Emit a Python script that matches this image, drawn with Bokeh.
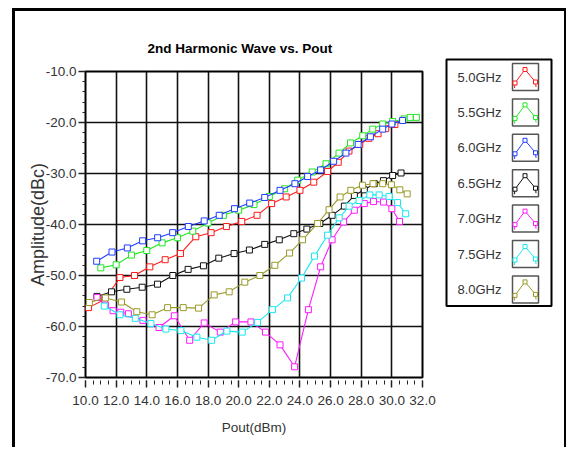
from bokeh.plotting import figure
from bokeh.layouts import row
from bokeh.models import Range1d, FixedTicker, PrintfTickFormatter
from bokeh.embed import file_html
from bokeh.resources import INLINE
from bokeh.core.properties import value
import numpy as np

FONT = "Liberation Sans"

# ---------------- data ----------------
x_ticks = [10, 12, 14, 16, 18, 20, 22, 24, 26, 28, 30, 32]
y_ticks = [-70, -60, -50, -40, -30, -20, -10]

labels = ["5.0GHz", "5.5GHz", "6.0GHz", "6.5GHz", "7.0GHz", "7.5GHz", "8.0GHz"]
colors = ["#ff1a1a", "#22e622", "#1f3cff", "#111111", "#ff1aff", "#1ae8f0", "#9a9a2a"]

x_50 = [10.2, 11.25, 12.25, 13.2, 14.2, 15.2, 16.2, 17.2, 18.2, 19.2, 20.2, 21.2, 22.15,
        23.1, 24.0, 24.9, 25.8, 26.5, 27.2, 27.9, 28.5, 29.1, 29.6, 30.2]
y_50 = [-56.3, -54.7, -50.4, -50.0, -48.3, -46.9, -45.7, -42.4, -41.6, -40.4, -39.4, -38.2, -35.9,
        -34.6, -33.3, -31.7, -29.6, -27.8, -25.6, -24.3, -23.1, -22.2, -21.2, -20.4]

x_55 = [11.0, 12.0, 13.0, 14.0, 15.0, 16.0, 17.0, 18.0, 19.0, 20.0, 21.0, 22.0, 23.0,
        23.85, 24.8, 25.7, 26.55, 27.3, 28.1, 28.75, 29.4, 30.05, 30.8, 31.2, 31.6]
y_55 = [-48.5, -47.9, -46.0, -45.1, -43.6, -42.6, -41.3, -39.7, -38.2, -37.2, -36.1, -34.5, -33.0,
        -31.3, -29.7, -28.1, -26.0, -24.0, -22.6, -21.3, -20.3, -19.8, -19.3, -19.0, -19.0]

x_60 = [10.73, 11.73, 12.73, 13.73, 14.71, 15.69, 16.71, 17.75, 18.73, 19.73, 20.72, 21.7,
        22.7, 23.67, 24.5, 25.35, 26.2, 27.0, 27.8, 28.6, 29.4, 30.0, 30.7]
y_60 = [-47.2, -45.4, -44.6, -43.2, -42.6, -41.6, -40.4, -39.3, -38.2, -36.9, -35.8, -34.7,
        -33.3, -32.0, -30.6, -29.3, -27.6, -26.0, -24.3, -22.8, -21.3, -20.3, -19.6]

x_65 = [10.75, 11.7, 12.7, 13.7, 14.7, 15.7, 16.7, 17.7, 18.7, 19.7, 20.7, 21.7, 22.65,
        23.6, 24.45, 25.3, 26.1, 26.9, 27.55, 28.2, 28.85, 29.45, 30.05, 30.6]
y_65 = [-54.1, -53.2, -52.7, -52.3, -51.7, -50.0, -48.8, -48.1, -46.6, -45.7, -45.0, -43.9, -43.0,
        -41.8, -40.9, -39.8, -38.2, -36.4, -34.3, -33.2, -32.0, -31.4, -30.4, -29.9]

x_70 = [10.75, 11.3, 11.8, 12.3, 12.8, 13.75, 14.8, 15.8, 16.8, 17.75, 18.8, 19.8, 20.8,
        21.75, 22.7, 23.65, 24.55, 25.35, 26.1, 26.85, 27.55, 28.2, 28.8, 29.45, 30.0, 30.5]
y_70 = [-54.3, -55.8, -56.9, -57.2, -57.5, -58.8, -60.2, -57.9, -62.7, -59.3, -61.1, -59.1, -59.1,
        -61.1, -63.6, -67.9, -56.7, -48.3, -43.0, -39.5, -37.2, -35.9, -35.5, -35.6, -36.9, -39.4]

x_75 = [11.23, 12.25, 13.25, 14.27, 15.25, 16.23, 17.27, 18.23, 19.23, 20.23, 21.23, 22.21,
        23.19, 24.1, 24.95, 25.8, 26.56, 27.21, 27.86, 28.56, 29.17, 29.82, 30.37, 30.9]
y_75 = [-56.0, -57.7, -58.4, -59.4, -60.5, -60.8, -62.1, -62.7, -60.9, -61.1, -59.2, -56.7,
        -54.4, -50.5, -46.2, -42.1, -38.7, -36.4, -35.3, -34.2, -34.2, -34.5, -35.7, -37.9]

x_80 = [10.25, 11.3, 12.35, 13.35, 14.35, 15.36, 16.38, 17.38, 18.4, 19.38, 20.4, 21.38, 22.36,
        23.32, 24.17, 25.15, 25.9, 26.62, 27.32, 28.08, 28.77, 29.4, 29.97, 30.52, 31.0]
y_80 = [-55.3, -54.4, -55.2, -57.1, -57.7, -56.3, -56.3, -56.4, -53.8, -53.2, -51.3, -50.0, -48.0,
        -45.6, -43.0, -39.8, -37.1, -34.6, -33.3, -32.3, -32.0, -32.0, -32.2, -33.2, -34.0]

series_x = [x_50, x_55, x_60, x_65, x_70, x_75, x_80]
series_y = [y_50, y_55, y_60, y_65, y_70, y_75, y_80]

# ---------------- main plot ----------------
H = 436
p = figure(width=423, height=H, x_range=Range1d(10, 32), y_range=Range1d(-70, -10),
           output_backend="svg", toolbar_location=None,
           min_border_left=70, min_border_right=16, min_border_top=60, min_border_bottom=70,
           background_fill_color="white", border_fill_color="white")
p.frame_align = False

p.title.text = "2nd Harmonic Wave vs. Pout"
p.title.align = "left"
p.title.offset = 62
p.title.text_font = FONT
p.title.text_font_size = "13.5px"
p.title.text_font_style = "bold"
p.title.text_color = "black"
p.title.standoff = 32

p.outline_line_color = "black"
p.outline_line_width = 2

xt = FixedTicker(ticks=x_ticks, minor_ticks=list(np.arange(10, 32.01, 0.5)))
yt = FixedTicker(ticks=y_ticks, minor_ticks=list(np.arange(-70, -9.99, 2.0)))
p.xaxis.ticker = xt
p.yaxis.ticker = yt
p.xgrid.ticker = xt
p.ygrid.ticker = yt
for g in (p.xgrid, p.ygrid):
    g.grid_line_color = "#111111"
    g.grid_line_width = 1.6

for ax in (p.xaxis, p.yaxis):
    ax.formatter = PrintfTickFormatter(format="%.1f")
    ax.axis_line_color = None
    ax.major_tick_line_color = "#222222"
    ax.minor_tick_line_color = "#222222"
    ax.major_tick_line_width = 1.5
    ax.minor_tick_line_width = 1
    ax.major_label_text_font = FONT
    ax.major_label_text_font_size = "13.5px"
    ax.major_label_text_color = "#333333"
    ax.axis_label_text_font = FONT
    ax.axis_label_text_font_style = "normal"
    ax.axis_label_text_color = "#333333"

p.xaxis.major_tick_in = -3
p.xaxis.major_tick_out = 10
p.xaxis.minor_tick_in = -3
p.xaxis.minor_tick_out = 7
p.xaxis.major_label_standoff = 8
p.xaxis.axis_label = "Pout(dBm)"
p.xaxis.axis_label_text_font_size = "13.5px"
p.xaxis.axis_label_standoff = 12

p.yaxis.major_tick_in = 0
p.yaxis.major_tick_out = 7
p.yaxis.minor_tick_in = 0
p.yaxis.minor_tick_out = 3
p.yaxis.major_label_standoff = 2
p.yaxis.axis_label = "Amplitude(dBc)"
p.yaxis.axis_label_text_font_size = "18px"
p.yaxis.axis_label_standoff = -5

for xs, ys, c in zip(series_x, series_y, colors):
    p.line(xs, ys, line_color=c, line_width=1.1)
    p.scatter(xs, ys, marker="square", size=6, line_color=c, fill_color="white", line_width=1)

# ---------------- legend panel ----------------
X0, X1 = 438, 564
lg = figure(width=X1 - X0, height=H, x_range=Range1d(X0, X1), y_range=Range1d(11 + H, 11),
            output_backend="svg", toolbar_location=None, min_border=0,
            x_axis_location=None, y_axis_location=None,
            background_fill_color="white", border_fill_color="white")
lg.frame_align = False
lg.grid.visible = False
lg.outline_line_color = None

# legend box
lg.quad(left=446, right=551, top=59, bottom=305.5, fill_color=None, line_color="black", line_width=2)

cys = [76.5 + 35.4 * i for i in range(len(labels))]
lg.text(x=[501] * len(labels), y=cys, text=labels, text_align="right", text_baseline="middle",
        text_font=value(FONT), text_font_size="13px", text_color="#333333")
lg.rect(x=[525] * len(labels), y=cys, width=26, height=27, fill_color="white",
        line_color="#555555", line_width=1.5)
for cy, c in zip(cys, colors):
    sx = [514.5, 524.5, 535.0]
    sy = [cy + 6, cy - 7.5, cy + 5]
    lg.line([514, 514.5, 524.5, 535.0, 535.5], [cy + 11, sy[0], sy[1], sy[2], cy + 10], line_color=c, line_width=1)
    lg.scatter(sx, sy, marker="square", size=4, line_color=c, fill_color="white", line_width=1)

layout = row(p, lg, spacing=0,
             styles={"margin-left": "12px", "margin-top": "8px",
                     "border-left": "3px solid black", "border-top": "3px solid black",
                     "border-right": "2px solid black"})
open("out.html", "w").write(file_html(layout, INLINE))
